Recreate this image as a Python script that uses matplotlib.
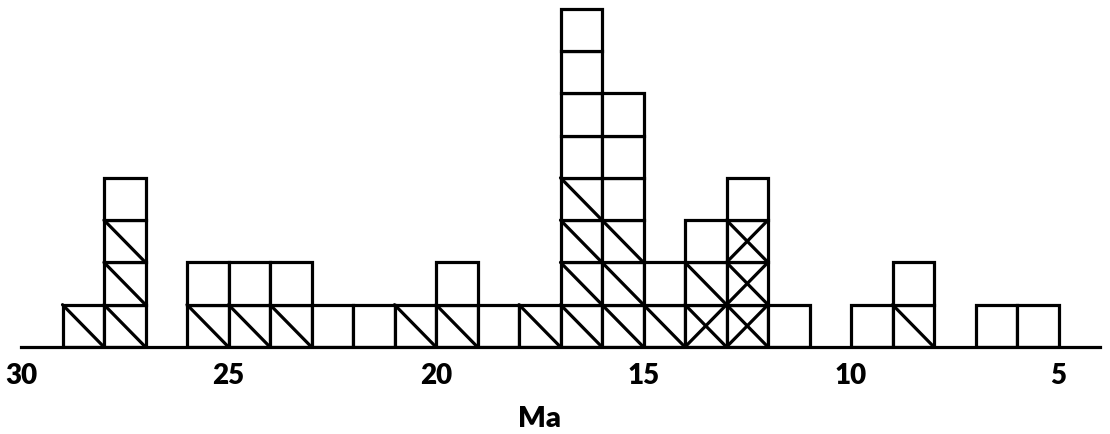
import matplotlib
matplotlib.use("Agg")
import matplotlib.pyplot as plt
import matplotlib.transforms as mtransforms

# ------------------------------
# DATA (bins are 1 Ma wide, keyed by their older edge)
# ------------------------------
bin_age = [29, 28, 26, 25, 24, 23, 22, 21, 20, 19, 18, 17, 16, 15, 14, 13, 12, 10, 9, 7, 6]
n_cross = [0, 0, 0, 0, 0, 0, 0, 0, 0, 0, 0, 0, 0, 0, 1, 3, 0, 0, 0, 0, 0]
n_diag = [1, 3, 1, 1, 1, 0, 0, 1, 1, 0, 1, 4, 3, 1, 1, 0, 0, 0, 1, 0, 0]
n_empty = [0, 1, 1, 1, 1, 1, 1, 0, 1, 1, 0, 4, 3, 1, 1, 1, 1, 1, 1, 1, 1]

tick_vals = [30, 25, 20, 15, 10, 5]
xlabel = "Ma"

LW = 2.3
FONT = "Lato"

# ------------------------------
# FIGURE
# ------------------------------
fig = plt.figure(figsize=(11.1, 4.35), dpi=100)
ax = fig.add_axes([21 / 1110, 87 / 435, (1100 - 21) / 1110, 348 / 435])

for age, nc, nd, ne in zip(bin_age, n_cross, n_diag, n_empty):
    kinds = ["x"] * nc + ["\\"] * nd + [""] * ne
    for k, kind in enumerate(kinds):
        ax.bar(age - 1, 1, bottom=k, width=1, align="edge",
               facecolor="white", edgecolor="black", linewidth=LW, zorder=2)
        if kind in ("x", "\\"):
            ax.plot([age, age - 1], [k + 1, k], color="black", lw=LW, zorder=3,
                    solid_capstyle="round")
        if kind == "x":
            ax.plot([age, age - 1], [k, k + 1], color="black", lw=LW, zorder=3,
                    solid_capstyle="round")

ax.set_xlim(30, 4)
ax.set_ylim(0, 348 / 42.3)

for s in ["top", "left", "right"]:
    ax.spines[s].set_visible(False)
ax.spines["bottom"].set_linewidth(LW)
ax.spines["bottom"].set_zorder(4)

ax.set_yticks([])
ax.set_xticks(tick_vals)
ax.set_xticklabels([str(v) for v in tick_vals], fontsize=20, fontweight="heavy",
                   family=FONT)
ax.tick_params(axis="x", length=0, pad=11)
ax.patch.set_visible(False)

trans = mtransforms.blended_transform_factory(ax.transData, fig.transFigure)
ax.text(17.5, 0.008, xlabel, transform=trans, ha="center", va="bottom",
        fontsize=21, fontweight="heavy", family=FONT)

fig.savefig("out.png", dpi=100)
